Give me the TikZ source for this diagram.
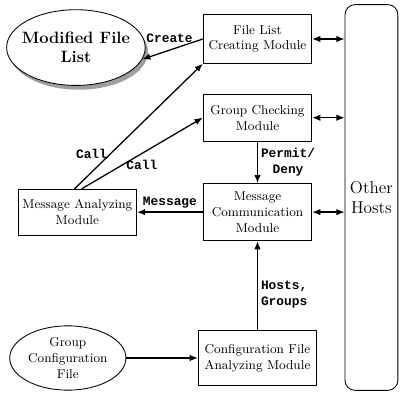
\documentclass[tikz,border=0pt]{standalone}
\usepackage{fontspec}
\setmonofont{Liberation Mono}
\usepackage{tikz}
\usetikzlibrary{arrows.meta,positioning,shapes.geometric,shadows}
\tikzset{
  module/.style={draw, line width=0.6pt, fill=white, align=center, minimum width=76pt, inner sep=2pt, font=\small},
  store/.style={draw, line width=0.6pt, fill=white, ellipse, align=center, inner sep=1pt},
  hostbox/.style={draw, line width=0.6pt, rounded corners=7pt, align=center, minimum width=37pt, minimum height=270pt, font=\large},
  lbl/.style={font=\ttfamily\bfseries\small, inner sep=2pt},
  arrow/.style={-{Latex[length=2mm,width=1.6mm]}, line width=0.9pt},
  link/.style={{Latex[length=2mm,width=1.6mm]}-{Latex[length=2mm,width=1.6mm]}, line width=0.9pt}
}
\begin{document}
\begin{tikzpicture}
  \useasboundingbox (0,0) rectangle (281.4pt,-275.1pt);

  \node[module, minimum height=34pt] (filelist) at (180.25pt,-27.3pt) {File List\\Creating Module};
  \node[module, minimum height=33pt, below=21pt of filelist] (group) {Group Checking\\Module};
  \node[module, minimum height=40pt, below=29pt of group] (msgcomm) {Message\\Communication\\Module};
  \node[module, minimum height=39pt, minimum width=83pt, below=62pt of msgcomm] (config) {Configuration File\\Analyzing Module};
  \node[module, minimum height=32pt, minimum width=83pt, left=46pt of msgcomm] (msgana) {Message Analyzing\\Module};
  \node[store, minimum width=79pt, minimum height=45pt, font=\small, left=50pt of config] (groupconf) {Group\\Configuration\\File};
  \node[store, inner sep=-8pt, minimum width=97pt, minimum height=53pt, font=\fontsize{11.5}{13.5}\selectfont\bfseries,
        drop shadow={shadow xshift=2pt, shadow yshift=-3pt, fill=black!75},
        left=40pt of filelist, yshift=-6pt] (modlist) {Modified File\\List};
  \node[hostbox] (hosts) at (260pt,-138.25pt) {Other\\Hosts};

  \draw[arrow] (filelist.west) -- node[lbl, above=3pt, pos=0.55] {Create} (modlist.-10);
  \draw[arrow] ([xshift=-2pt]msgana.north) -- node[lbl, left, pos=0.28] {Call} (filelist.south west);
  \draw[arrow] ([xshift=3pt]msgana.north) -- node[lbl, below, pos=0.45, xshift=4pt] {Call} (group.west);
  \draw[arrow] (group) -- node[lbl, right, align=center] {Permit/\\Deny} (msgcomm);
  \draw[arrow] (msgcomm) -- node[lbl, above] {Message} (msgana);
  \draw[arrow] (config) -- node[lbl, right, align=left, pos=0.4] {Hosts,\\Groups} (msgcomm);
  \draw[arrow] (groupconf) -- (config);

  \draw[link] (filelist.east) -- (filelist.east -| hosts.west);
  \draw[link] (group.east) -- (group.east -| hosts.west);
  \draw[link] (msgcomm.east) -- (msgcomm.east -| hosts.west);
\end{tikzpicture}
\end{document}
